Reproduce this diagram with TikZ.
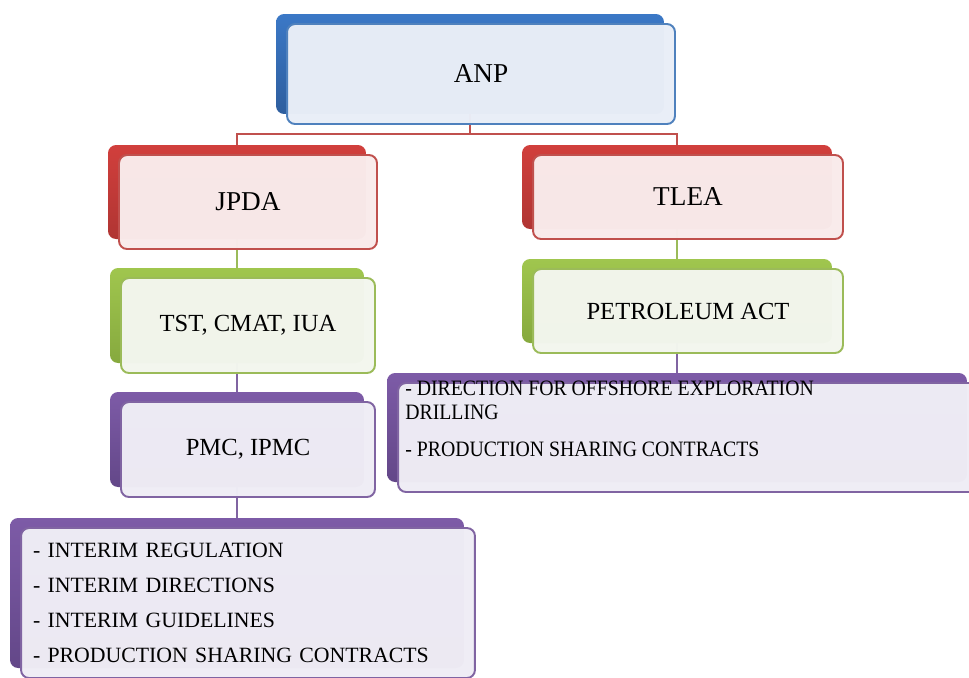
\documentclass[tikz,border=0pt]{standalone}
\usepackage{fontspec}
\setmainfont{Liberation Serif}
\newfontfamily\condensedfont[FakeStretch=0.9]{Liberation Serif}
\usetikzlibrary{shadows,backgrounds}

\definecolor{blueedge}{HTML}{4F81BD}
\definecolor{bluetint}{HTML}{E9EEF7}
\definecolor{blueback}{HTML}{3B78C6}
\definecolor{bluedark}{HTML}{2E5E9E}
\definecolor{rededge}{HTML}{C0504D}
\definecolor{redtint}{HTML}{F9EBEB}
\definecolor{redback}{HTML}{D13F3C}
\definecolor{reddark}{HTML}{B03533}
\definecolor{greenedge}{HTML}{9BBB59}
\definecolor{greentint}{HTML}{F3F6EE}
\definecolor{greenback}{HTML}{A0C64E}
\definecolor{greendark}{HTML}{86A93E}
\definecolor{purpleedge}{HTML}{8064A2}
\definecolor{purpletint}{HTML}{EFEDF5}
\definecolor{purpleback}{HTML}{7D5BA7}
\definecolor{purpledark}{HTML}{634788}

\tikzset{
  card/.style={rounded corners=0.16cm, line width=1.1pt, draw=#1edge, fill=#1tint,
    fill opacity=0.98, text opacity=1, inner sep=0pt,
    font=\fontsize{14}{17}\selectfont,
    general shadow={draw=none, fill opacity=1, top color=#1back, bottom color=#1dark,
      shadow xshift=-0.22cm, shadow yshift=0.2cm}},
  bigtitle/.style={font=\fontsize{15.5}{18}\selectfont},
  listtext/.style={align=left, inner sep=0pt, font=\fontsize{12.4}{19.9}\selectfont},
  link/.style={draw=#1edge, line width=0.9pt}
}

\begin{document}
\begin{tikzpicture}[x=0.02cm, y=-0.02cm]
\useasboundingbox (0,0) rectangle (969,677);

% top level
\node[card=blue, bigtitle, minimum width=7.76cm, minimum height=2cm] (anp) at (481,74) {ANP};

% left branch
\node[card=red, bigtitle, minimum width=5.16cm, minimum height=1.88cm] (jpda) at (248,202) {JPDA};
\node[card=green, minimum width=5.08cm, minimum height=1.9cm] (tribunals) at (248,325.5) {TST, CMAT, IUA};
\node[card=purple, minimum width=5.08cm, minimum height=1.9cm] (pmc) at (248,449.5) {PMC, IPMC};
\node[card=purple, minimum width=9.08cm, minimum height=3cm, listtext, text width=8.6cm] (interim) at (248,603)
  {- INTERIM REGULATION\\
   - INTERIM DIRECTIONS\\
   - INTERIM GUIDELINES\\
   - PRODUCTION SHARING CONTRACTS};

% right branch
\node[card=red, bigtitle, minimum width=6.2cm, minimum height=1.68cm] (tlea) at (688,197) {TLEA};
\node[card=green, minimum width=6.2cm, minimum height=1.68cm] (petact) at (688,311) {PETROLEUM ACT};
\node[card=purple, minimum width=11.6cm, minimum height=2.18cm] (offshore) at (688,437.5) {};
\node[listtext, anchor=north west, font=\condensedfont\fontsize{12.5}{13.7}\selectfont] (offshoretxt) at (405,381)
  {- DIRECTION FOR OFFSHORE EXPLORATION\\
   DRILLING\\[7pt]
   - PRODUCTION SHARING CONTRACTS};

% connectors
\begin{scope}[on background layer]
  \coordinate (fork) at ([xshift=-0.22cm, yshift=-0.18cm]anp.south);
  \draw[link=red] ([xshift=-0.22cm]anp.center) -- (fork);
  \draw[link=red] (fork) -| ([xshift=-0.22cm]jpda.center);
  \draw[link=red] (fork) -| ([xshift=-0.22cm]tlea.center);
  \draw[link=green] ([xshift=-0.22cm]jpda.center) -- ([xshift=-0.22cm]tribunals.center);
  \draw[link=purple] ([xshift=-0.22cm]tribunals.center) -- ([xshift=-0.22cm]pmc.center);
  \draw[link=purple] ([xshift=-0.22cm]pmc.center) -- ([xshift=-0.22cm]interim.center);
  \draw[link=green] ([xshift=-0.22cm]tlea.center) -- ([xshift=-0.22cm]petact.center);
  \draw[link=purple] ([xshift=-0.22cm]petact.center) -- ([xshift=-0.22cm]offshore.center);
\end{scope}
\end{tikzpicture}
\end{document}
